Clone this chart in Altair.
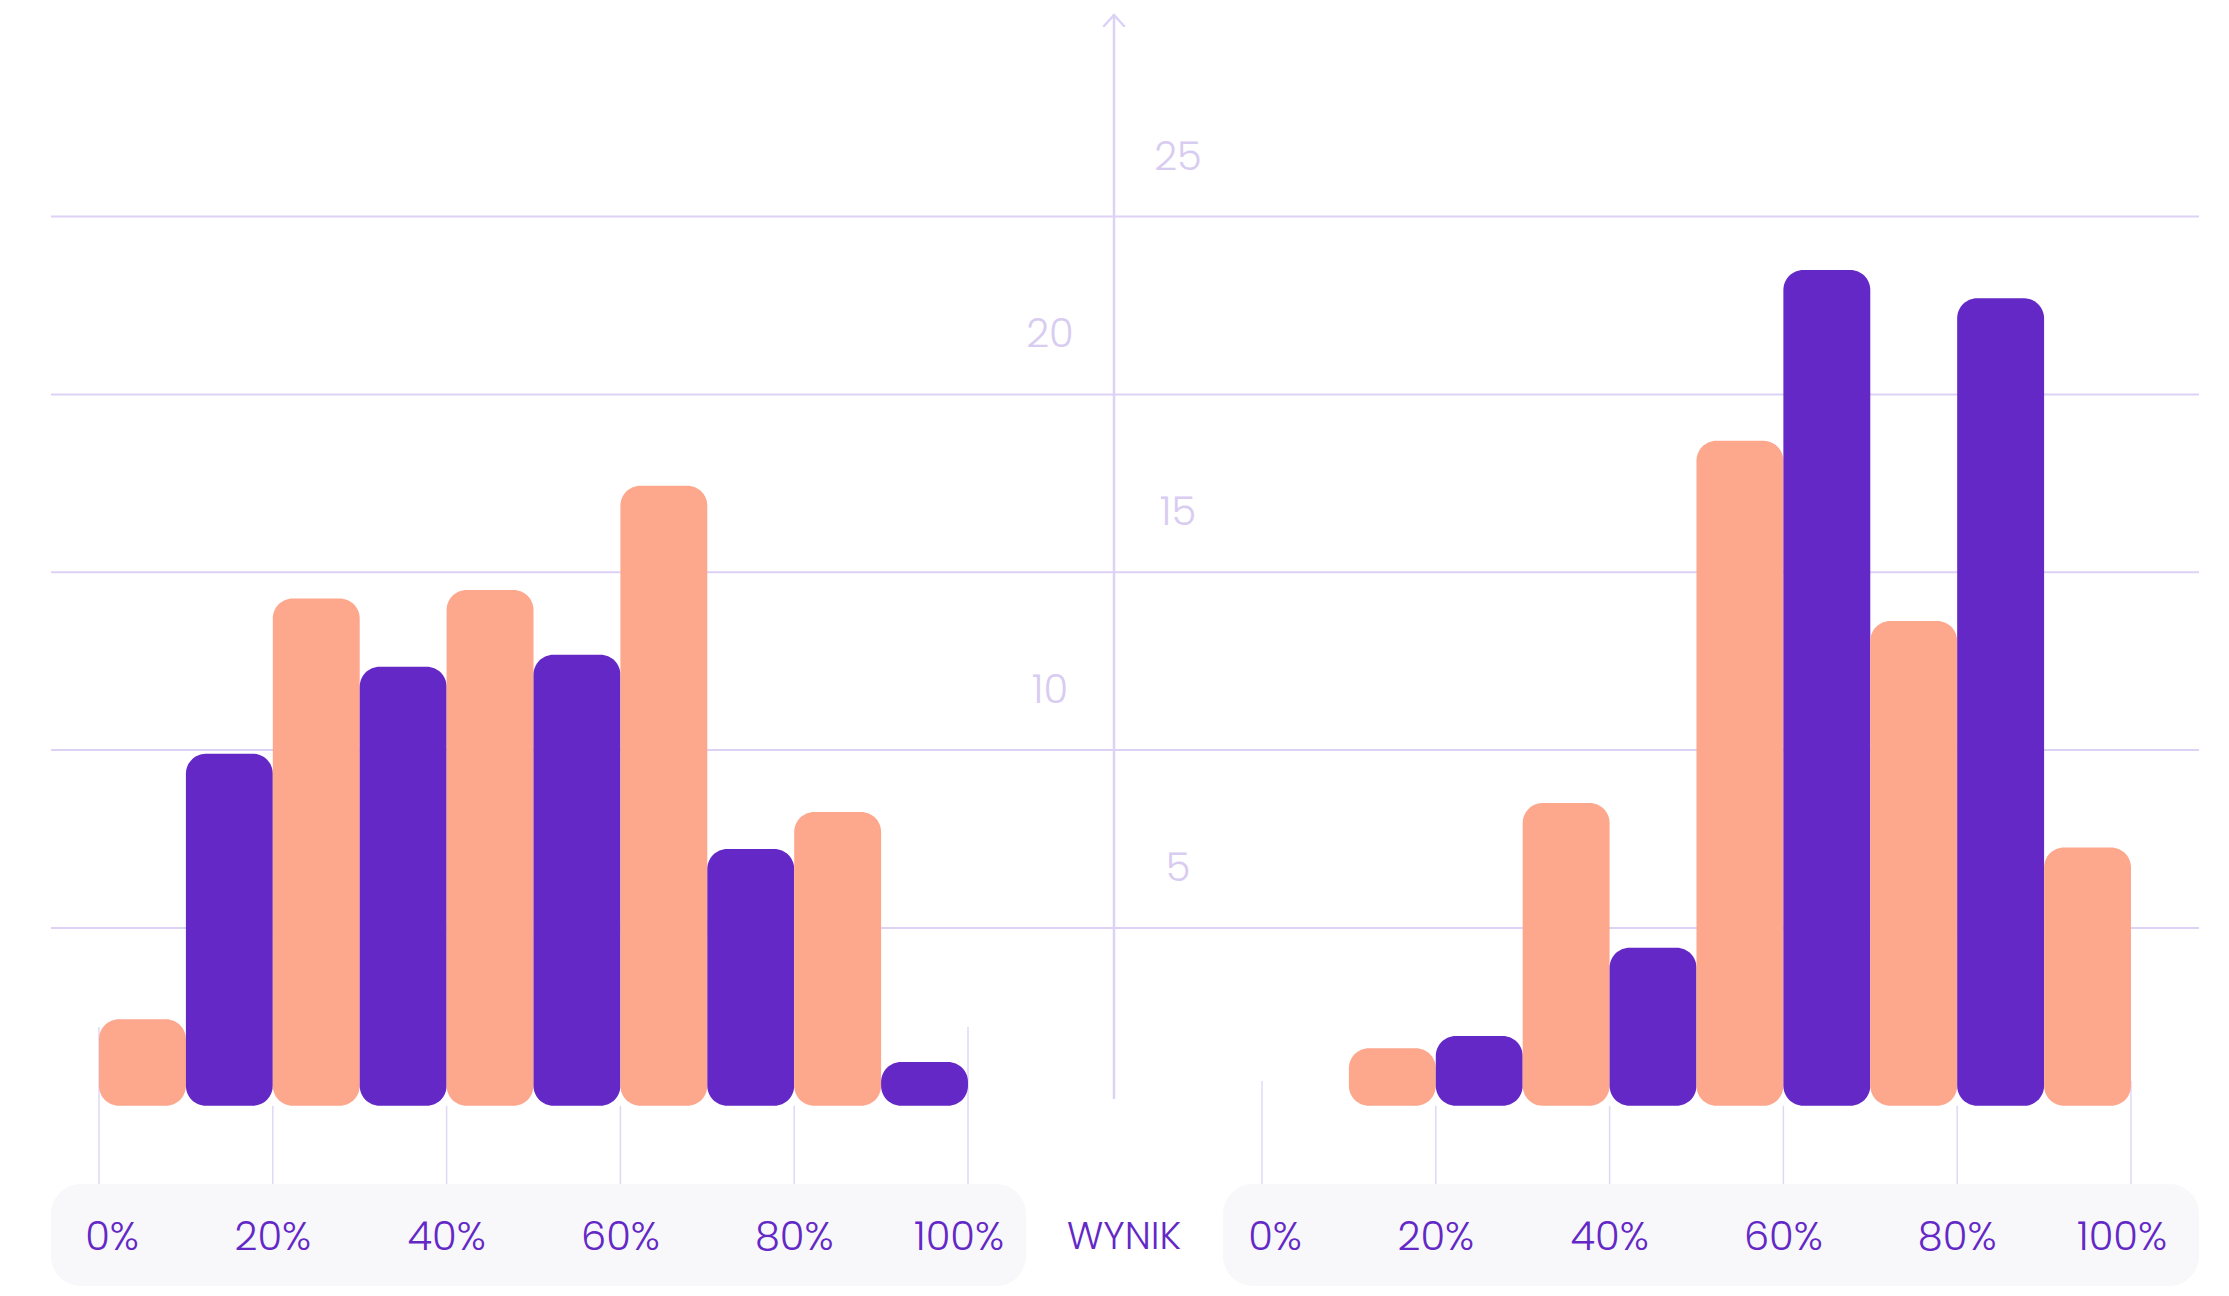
import altair as alt
import pandas as pd

# ---------------- data ----------------
left_bins = [0, 10, 20, 30, 40, 50, 60, 70, 80, 90]
left_values = [2.43, 9.90, 14.26, 12.34, 14.50, 12.68, 17.43, 7.22, 8.26, 1.23]
left_series = ["A", "B", "A", "B", "A", "B", "A", "B", "A", "B"]

right_bins = [10, 20, 30, 40, 50, 60, 70, 80, 90]
right_values = [1.62, 1.96, 8.51, 4.44, 18.70, 23.50, 13.63, 22.70, 7.26]
right_series = ["A", "B", "A", "B", "A", "B", "A", "B", "A"]

tick_values = [0, 20, 40, 60, 80, 100]
tick_labels = ["0%", "20%", "40%", "60%", "80%", "100%"]
y_right_ticks = [5, 15, 25]
y_left_ticks = [10, 20]
grid_values = [5, 10, 15, 20, 25]
axis_title = "WYNIK"
BIN = 10

# ---------------- layout / style ----------------
W, H = 2213, 1280
X0 = 91.0          # local px of left 0%
PXU_X = 8.69       # px per percent
RIGHT_OFF = 133.83 # offset of right panel (percent units)
Y0 = 1097.8        # local px of zero
PXU_Y = 35.57      # px per unit

ORANGE = "#FDA78D"
PURPLE = "#6328C6"
GRID = "#DDD1F5"
TICK = "#E1D8F6"
YLAB = "#D9CCF1"
BOX = "#F8F8FA"
FONT = "Poppins, Inter, sans-serif"

xs = alt.Scale(domain=[-X0 / PXU_X, (W - X0) / PXU_X], nice=False, zero=False)
ys = alt.Scale(domain=[-(H - Y0) / PXU_Y, Y0 / PXU_Y], nice=False, zero=False)

rows = []
for b, v, s in zip(left_bins, left_values, left_series):
    rows.append({"x0": b, "x1": b + BIN, "v": v, "base": 0, "series": s})
for b, v, s in zip(right_bins, right_values, right_series):
    rows.append({"x0": b + RIGHT_OFF, "x1": b + BIN + RIGHT_OFF, "v": v, "base": 0, "series": s})
bars_df = pd.DataFrame(rows)

one = pd.DataFrame({"a": [0]})

# label boxes
box_l = alt.Chart(one).mark_rect(cornerRadius=30, color=BOX).encode(
    x=alt.value(43), x2=alt.value(1018), y=alt.value(1176), y2=alt.value(1278))
box_r = alt.Chart(one).mark_rect(cornerRadius=30, color=BOX).encode(
    x=alt.value(1215), x2=alt.value(2191), y=alt.value(1176), y2=alt.value(1278))

# gridlines
grid = alt.Chart(pd.DataFrame({"v": grid_values})).mark_rule(color=GRID, strokeWidth=2).encode(
    y=alt.Y("v:Q", scale=ys, axis=None), x=alt.value(43), x2=alt.value(2191))

# central axis with arrow
axis_line = alt.Chart(one).mark_rule(color=GRID, strokeWidth=2.5).encode(
    x=alt.value(1106), y=alt.value(7), y2=alt.value(1091))
arrow_a = alt.Chart(one).mark_rule(color=GRID, strokeWidth=2.5, strokeCap="round").encode(
    x=alt.value(1096), x2=alt.value(1106), y=alt.value(18), y2=alt.value(7))
arrow_b = alt.Chart(one).mark_rule(color=GRID, strokeWidth=2.5, strokeCap="round").encode(
    x=alt.value(1106), x2=alt.value(1116), y=alt.value(7), y2=alt.value(18))

# tick lines
inner_ticks = [t for t in tick_values if t not in (0, 100)]
ticks_inner_df = pd.DataFrame({"x": inner_ticks + [t + RIGHT_OFF for t in inner_ticks]})
ticks_inner = alt.Chart(ticks_inner_df).mark_rule(color=TICK, strokeWidth=1.5).encode(
    x=alt.X("x:Q", scale=xs, axis=None), y=alt.value(Y0), y2=alt.value(1176))
ticks_left_end = alt.Chart(pd.DataFrame({"x": [0, 100]})).mark_rule(color=TICK, strokeWidth=1.5).encode(
    x=alt.X("x:Q", scale=xs, axis=None), y=alt.value(1019), y2=alt.value(1176))
ticks_right_end = alt.Chart(pd.DataFrame({"x": [RIGHT_OFF, 100 + RIGHT_OFF]})).mark_rule(color=TICK, strokeWidth=1.5).encode(
    x=alt.X("x:Q", scale=xs, axis=None), y=alt.value(1073), y2=alt.value(1176))

# bars
bars = alt.Chart(bars_df).mark_rect(cornerRadius=20).encode(
    x=alt.X("x0:Q", scale=xs, axis=None), x2="x1:Q",
    y=alt.Y("v:Q", scale=ys, axis=None), y2="base:Q",
    color=alt.Color("series:N", scale=alt.Scale(domain=["A", "B"], range=[ORANGE, PURPLE]), legend=None))

# y labels
ylab_r = alt.Chart(pd.DataFrame({"v": y_right_ticks})).mark_text(
    font=FONT, fontSize=40, fontWeight=300, color=YLAB, align="center", baseline="middle", dy=-59).encode(
    x=alt.value(1170), y=alt.Y("v:Q", scale=ys, axis=None), text="v:Q")
ylab_l = alt.Chart(pd.DataFrame({"v": y_left_ticks})).mark_text(
    font=FONT, fontSize=40, fontWeight=300, color=YLAB, align="center", baseline="middle", dy=-59).encode(
    x=alt.value(1042), y=alt.Y("v:Q", scale=ys, axis=None), text="v:Q")

# x labels
def xlabels(idx, dx):
    xs_ = []
    lb = []
    for i in idx:
        for off in (0, RIGHT_OFF):
            xs_.append(tick_values[i] + off)
            lb.append(tick_labels[i])
    return alt.Chart(pd.DataFrame({"x": xs_, "label": lb})).mark_text(
        font=FONT, fontSize=40, fontWeight=300, color=PURPLE, align="center", baseline="middle", dx=dx).encode(
        x=alt.X("x:Q", scale=xs, axis=None), y=alt.value(1230), text="label:N")

xl_mid = xlabels([1, 2, 3, 4], 0)
xl_first = xlabels([0], 13)
xl_last = xlabels([5], -9)

title = alt.Chart(pd.DataFrame({"t": [axis_title]})).mark_text(
    font=FONT, fontSize=38, fontWeight=300, color=PURPLE, align="center", baseline="middle").encode(
    x=alt.value(1116), y=alt.value(1230), text="t:N")

chart = alt.layer(
    box_l, box_r, grid, axis_line, arrow_a, arrow_b,
    ticks_inner, ticks_left_end, ticks_right_end, bars,
    ylab_r, ylab_l, xl_mid, xl_first, xl_last, title,
).properties(
    width=W, height=H, autosize=alt.AutoSizeParams(type="none"), padding=0,
).configure(background="white", view=alt.ViewConfig(stroke=None))

chart.save("out.html", embed_options={"renderer": "svg", "actions": False})
